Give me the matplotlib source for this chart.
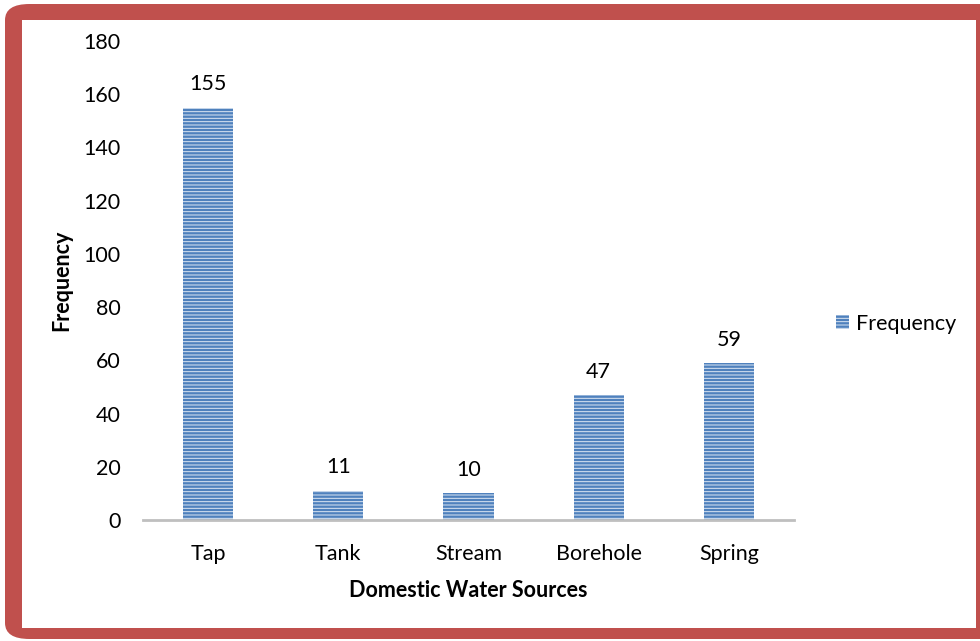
import matplotlib
matplotlib.use("Agg")
import matplotlib.pyplot as plt
from matplotlib.patches import FancyBboxPatch, Rectangle

categories = ["Tap", "Tank", "Stream", "Borehole", "Spring"]
frequency = [155, 11, 10, 47, 59]
yticks = [0, 20, 40, 60, 80, 100, 120, 140, 160, 180]

plt.rcParams['font.family'] = ['Lato', 'DejaVu Sans']
plt.rcParams['hatch.linewidth'] = 0.7
plt.rcParams['hatch.color'] = '#DDE7F3'

FS = 15.5
W, H = 980, 641
fig = plt.figure(figsize=(W/100, H/100), dpi=100)
fig.patch.set_facecolor('white')

# red frame
outer = FancyBboxPatch((5/W, 2/H), (W + 20)/W, (H - 6)/H, boxstyle="round,pad=0,rounding_size=0.025",
                       transform=fig.transFigure, facecolor='#C0504D', edgecolor='none', zorder=0)
fig.patches.append(outer)
inner = Rectangle((22/W, (H-628)/H), (976-22)/W, (628-20)/H, transform=fig.transFigure,
                  facecolor='white', edgecolor='none', zorder=0.5)
fig.patches.append(inner)

ax = fig.add_axes([143/W, (H-520)/H, (794-143)/W, (520-41)/H])
ax.set_zorder(2)
ax.set_facecolor('none')
x = range(len(categories))
bars = ax.bar(x, frequency, width=0.385, color='#4F81BD', edgecolor='#DDE7F3', linewidth=0,
              hatch='-----', label='Frequency')
for b, v in zip(bars, frequency):
    ax.annotate(str(v), (b.get_x() + b.get_width()/2, v), xytext=(0, 12.5), textcoords='offset points',
                ha='center', va='baseline', fontsize=FS)

ax.set_xlim(-0.5, len(categories) - 0.5)
ax.set_ylim(0, 180)
ax.set_yticks(yticks)
ax.set_xticks(list(x))
ax.set_xticklabels(categories)
for s in ['top', 'right', 'left']:
    ax.spines[s].set_visible(False)
ax.spines['bottom'].set_color('#BFBFBF')
ax.spines['bottom'].set_linewidth(2)
ax.tick_params(axis='y', length=0, pad=16, labelsize=FS)
ax.tick_params(axis='x', length=0, pad=17, labelsize=FS)
ax.set_xlabel('Domestic Water Sources', fontsize=FS, fontweight='bold', labelpad=12)
ax.set_ylabel('Frequency', fontsize=FS, fontweight='bold', labelpad=8)

leg = ax.legend(loc='center left', bbox_to_anchor=(1.035, 0.41), frameon=False, fontsize=FS,
                handlelength=0.6, handleheight=0.6, handletextpad=0.3)

fig.savefig('out.png', dpi=100, facecolor=fig.get_facecolor())
